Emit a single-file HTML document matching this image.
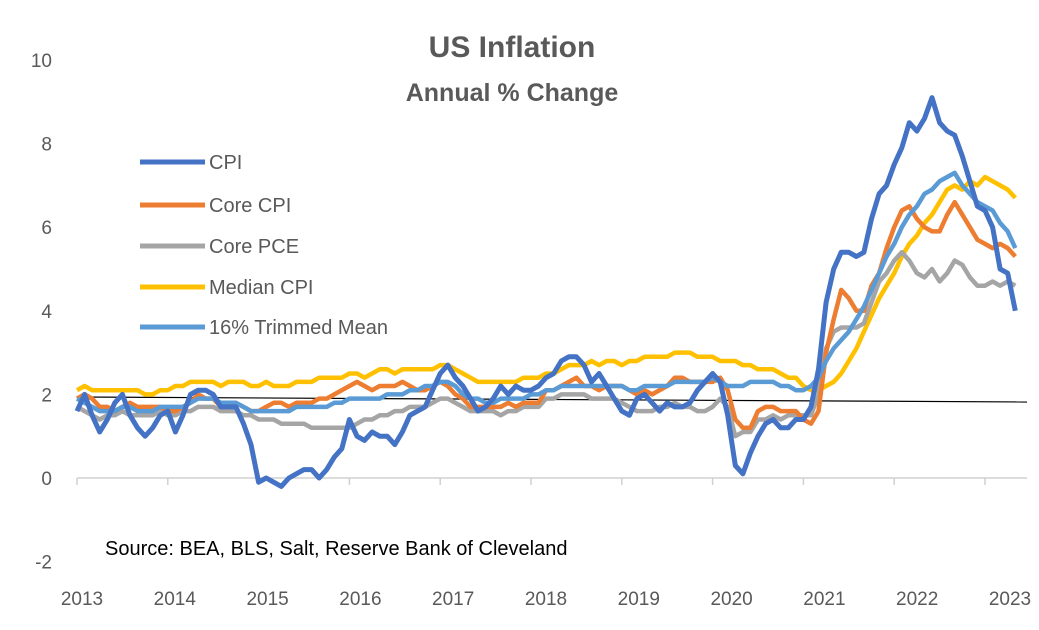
<!DOCTYPE html>
<html><head><meta charset="utf-8"><style>
body{margin:0;background:#fff;}
svg{display:block;font-family:"Liberation Sans",Calibri,sans-serif;}
</style></head><body>
<svg id="chart" width="1039" height="630">
<text x="512" y="57" text-anchor="middle" font-size="30" font-weight="bold" fill="#595959">US Inflation</text>
<text x="512" y="101" text-anchor="middle" font-size="25" font-weight="bold" fill="#595959">Annual % Change</text>
<text x="105" y="555" font-size="20" fill="#000">Source: BEA, BLS, Salt, Reserve Bank of Cleveland</text>
<g id="yticks"></g><g id="xticks"></g><g id="series"></g><g id="legend"></g>
</svg>
<script>
const yTicks=[-2,0,2,4,6,8,10];
const xTickLabels=["2013","2014","2015","2016","2017","2018","2019","2020","2021","2022","2023"];
const seriesNames=["CPI","Core CPI","Core PCE","Median CPI","16% Trimmed Mean"];
const cpi=[1.6,2.0,1.5,1.1,1.4,1.8,2.0,1.5,1.2,1.0,1.2,1.5, 1.6,1.1,1.5,2.0,2.1,2.1,2.0,1.7,1.7,1.7,1.3,0.8, -0.1,0.0,-0.1,-0.2,0.0,0.1,0.2,0.2,0.0,0.2,0.5,0.7, 1.4,1.0,0.9,1.1,1.0,1.0,0.8,1.1,1.5,1.6,1.7,2.1, 2.5,2.7,2.4,2.2,1.9,1.6,1.7,1.9,2.2,2.0,2.2,2.1, 2.1,2.2,2.4,2.5,2.8,2.9,2.9,2.7,2.3,2.5,2.2,1.9, 1.6,1.5,1.9,2.0,1.8,1.6,1.8,1.7,1.7,1.8,2.1,2.3, 2.5,2.3,1.5,0.3,0.1,0.6,1.0,1.3,1.4,1.2,1.2,1.4, 1.4,1.7,2.6,4.2,5.0,5.4,5.4,5.3,5.4,6.2,6.8,7.0, 7.5,7.9,8.5,8.3,8.6,9.1,8.5,8.3,8.2,7.7,7.1,6.5, 6.4,6.0,5.0,4.9,4.0];
const coreCpi=[1.9,2.0,1.9,1.7,1.7,1.6,1.7,1.8,1.7,1.7,1.7,1.7, 1.6,1.6,1.7,1.8,2.0,1.9,1.9,1.7,1.7,1.8,1.7,1.6, 1.6,1.7,1.8,1.8,1.7,1.8,1.8,1.8,1.9,1.9,2.0,2.1, 2.2,2.3,2.2,2.1,2.2,2.2,2.2,2.3,2.2,2.1,2.1,2.2, 2.3,2.2,2.0,1.9,1.7,1.7,1.7,1.7,1.7,1.8,1.7,1.8, 1.8,1.8,2.1,2.1,2.2,2.3,2.4,2.2,2.2,2.1,2.2,2.2, 2.2,2.1,2.0,2.1,2.0,2.1,2.2,2.4,2.4,2.3,2.3,2.3, 2.3,2.4,2.1,1.4,1.2,1.2,1.6,1.7,1.7,1.6,1.6,1.6, 1.4,1.3,1.6,3.0,3.8,4.5,4.3,4.0,4.0,4.6,4.9,5.5, 6.0,6.4,6.5,6.2,6.0,5.9,5.9,6.3,6.6,6.3,6.0,5.7, 5.6,5.5,5.6,5.5,5.3];
const corePce=[1.7,1.6,1.5,1.4,1.5,1.5,1.6,1.5,1.5,1.5,1.5,1.6, 1.5,1.5,1.6,1.6,1.7,1.7,1.7,1.6,1.6,1.6,1.5,1.5, 1.4,1.4,1.4,1.3,1.3,1.3,1.3,1.2,1.2,1.2,1.2,1.2, 1.2,1.3,1.4,1.4,1.5,1.5,1.6,1.6,1.7,1.7,1.7,1.8, 1.9,1.9,1.8,1.7,1.6,1.6,1.6,1.6,1.5,1.6,1.6,1.7, 1.7,1.7,1.9,1.9,2.0,2.0,2.0,2.0,1.9,1.9,1.9,1.9, 1.8,1.7,1.6,1.6,1.6,1.7,1.7,1.8,1.7,1.7,1.6,1.6, 1.7,1.9,1.7,1.0,1.1,1.1,1.4,1.4,1.5,1.4,1.5,1.5, 1.5,1.5,2.0,3.1,3.5,3.6,3.6,3.6,3.7,4.2,4.7,4.9, 5.2,5.4,5.2,4.9,4.8,5.0,4.7,4.9,5.2,5.1,4.8,4.6, 4.6,4.7,4.6,4.7,4.6];
const medianCpi=[2.1,2.2,2.1,2.1,2.1,2.1,2.1,2.1,2.1,2.0,2.0,2.1, 2.1,2.2,2.2,2.3,2.3,2.3,2.3,2.2,2.3,2.3,2.3,2.2, 2.2,2.3,2.2,2.2,2.2,2.3,2.3,2.3,2.4,2.4,2.4,2.4, 2.5,2.5,2.4,2.5,2.6,2.6,2.5,2.6,2.6,2.6,2.6,2.6, 2.7,2.7,2.6,2.5,2.4,2.3,2.3,2.3,2.3,2.3,2.3,2.4, 2.4,2.4,2.5,2.5,2.6,2.7,2.7,2.7,2.8,2.7,2.8,2.8, 2.7,2.8,2.8,2.9,2.9,2.9,2.9,3.0,3.0,3.0,2.9,2.9, 2.9,2.8,2.8,2.8,2.7,2.7,2.6,2.6,2.6,2.5,2.4,2.4, 2.2,2.1,2.1,2.2,2.3,2.5,2.8,3.1,3.5,3.9,4.3,4.6, 4.9,5.3,5.6,5.8,6.1,6.3,6.6,6.9,7.0,6.9,7.1,7.0, 7.2,7.1,7.0,6.9,6.7];
const trimmedMean=[1.9,1.8,1.7,1.6,1.6,1.6,1.7,1.7,1.6,1.6,1.6,1.7, 1.7,1.7,1.7,1.8,1.9,1.9,1.9,1.8,1.8,1.8,1.7,1.6, 1.6,1.6,1.6,1.6,1.6,1.7,1.7,1.7,1.7,1.7,1.8,1.8, 1.9,1.9,1.9,1.9,1.9,2.0,2.0,2.0,2.1,2.1,2.2,2.2, 2.3,2.3,2.2,2.0,1.9,1.9,1.8,1.8,1.9,1.9,1.9,1.9, 2.0,2.0,2.1,2.1,2.2,2.2,2.2,2.2,2.2,2.2,2.2,2.2, 2.2,2.1,2.1,2.2,2.2,2.2,2.2,2.3,2.3,2.3,2.3,2.3, 2.4,2.3,2.2,2.2,2.2,2.3,2.3,2.3,2.3,2.2,2.2,2.1, 2.1,2.2,2.4,2.8,3.1,3.3,3.5,3.8,4.1,4.5,4.9,5.3, 5.6,6.0,6.3,6.5,6.8,6.9,7.1,7.2,7.3,7.0,6.8,6.6, 6.5,6.4,6.1,5.9,5.5];
const seriesData=[cpi,coreCpi,corePce,medianCpi,trimmedMean];
const colors=["#4472C4","#ED7D31","#A5A5A5","#FFC000","#5B9BD5"];
const NS="http://www.w3.org/2000/svg";
function yScale(v){return 478-v*41.8;}
function xScale(i){return 77+(i/12)*90.8;}
function mk(tag,attrs,parent){const e=document.createElementNS(NS,tag);for(const k in attrs)e.setAttribute(k,attrs[k]);parent.appendChild(e);return e;}
const svg=document.getElementById('chart');
const yg=document.getElementById('yticks'),xg=document.getElementById('xticks'),sg=document.getElementById('series'),lg=document.getElementById('legend');
yTicks.forEach(v=>{const t=mk('text',{x:52,y:yScale(v)+7,'text-anchor':'end','font-size':19,fill:'#595959'},yg);t.textContent=v;

});
const ax=mk('line',{x1:77,y1:yScale(0),x2:1027,y2:yScale(0),stroke:'#d0d0d0','stroke-width':1.5},xg);


xTickLabels.forEach((l,i)=>{const x=xScale(i*12);mk('line',{x1:x,y1:yScale(0),x2:x,y2:yScale(0)+7,stroke:'#d0d0d0','stroke-width':1.5},xg);
const t=mk('text',{x:82+92.8*i,y:605,'text-anchor':'middle','font-size':19,fill:'#595959'},xg);t.textContent=l;

});
const ref=mk('line',{x1:77,y1:397,x2:1027,y2:402,stroke:'#000','stroke-width':1.2},xg);


[3,2,1,4,0].forEach(k=>{const d=seriesData[k].map((v,i)=>(i?'L':'M')+xScale(i).toFixed(1)+','+yScale(v).toFixed(1)).join(' ');
const p=mk('path',{d:d,fill:'none',stroke:colors[k],'stroke-width':k==0?5:4.5,'stroke-linejoin':'round'},sg);

});
const ly=[162,205,246,287,327];
seriesNames.forEach((n,k)=>{mk('line',{x1:140,y1:ly[k],x2:205,y2:ly[k],stroke:colors[k],'stroke-width':5},lg);
const t=mk('text',{x:209,y:ly[k]+7,'font-size':20,fill:'#595959'},lg);t.textContent=n;

});
</script>
</body></html>
